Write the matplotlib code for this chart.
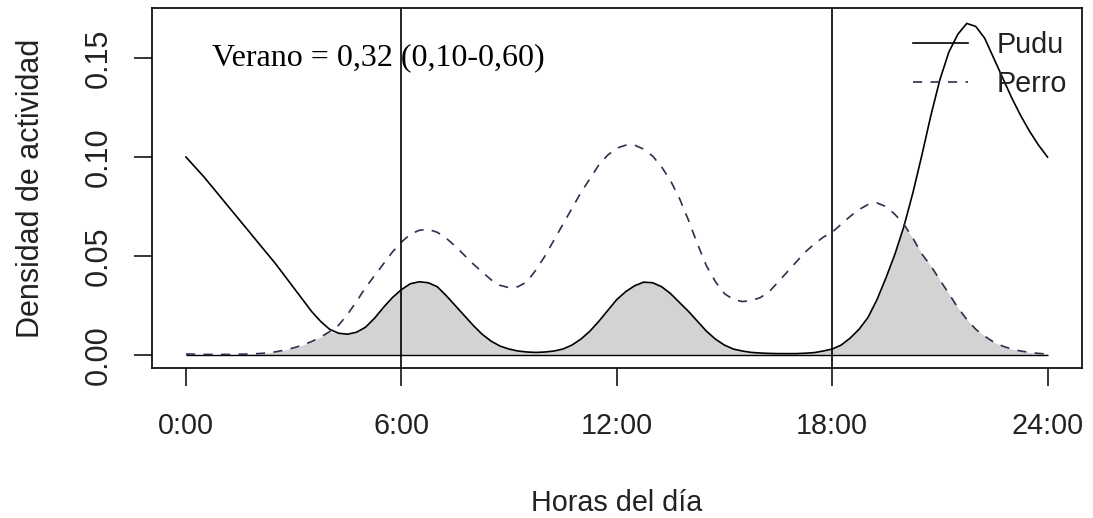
import numpy as np
import matplotlib
matplotlib.use("Agg")
import matplotlib.pyplot as plt

# ---- data (quarter-hour steps) ----
hours = [i * 0.25 for i in range(97)]
pudu = [0.100, 0.095, 0.090, 0.0845, 0.079, 0.0735, 0.068, 0.0625, 0.057, 0.0515,
        0.046, 0.040, 0.034, 0.028, 0.022, 0.017, 0.013, 0.011, 0.0105, 0.0115,
        0.014, 0.0185, 0.024, 0.029, 0.033, 0.036, 0.037, 0.0365, 0.0345, 0.030,
        0.025, 0.020, 0.015, 0.0105, 0.007, 0.0045, 0.003, 0.002, 0.0015, 0.0013,
        0.0015, 0.002, 0.003, 0.005, 0.008, 0.012, 0.017, 0.0225, 0.028, 0.032,
        0.035, 0.0368, 0.0365, 0.0345, 0.031, 0.0265, 0.022, 0.017, 0.012, 0.008,
        0.005, 0.003, 0.002, 0.0013, 0.001, 0.0008, 0.0007, 0.0007, 0.0007, 0.0009,
        0.0012, 0.002, 0.003, 0.005, 0.0085, 0.013, 0.019, 0.028, 0.039, 0.051,
        0.065, 0.082, 0.101, 0.121, 0.139, 0.153, 0.162, 0.1675, 0.166, 0.160,
        0.150, 0.140, 0.130, 0.121, 0.113, 0.106, 0.100]
perro = [0.0005, 0.0004, 0.0003, 0.0003, 0.0003, 0.0003, 0.0004, 0.0005, 0.0007, 0.001,
         0.0016, 0.0025, 0.0036, 0.005, 0.0068, 0.009, 0.0118, 0.015, 0.0205, 0.027,
         0.034, 0.040, 0.046, 0.052, 0.057, 0.061, 0.063, 0.0635, 0.062, 0.059,
         0.055, 0.0505, 0.046, 0.042, 0.038, 0.0352, 0.034, 0.0345, 0.037, 0.043,
         0.050, 0.058, 0.066, 0.074, 0.082, 0.089, 0.096, 0.101, 0.1045, 0.106,
         0.106, 0.104, 0.1005, 0.095, 0.088, 0.079, 0.068, 0.056, 0.045, 0.037,
         0.031, 0.028, 0.027, 0.0275, 0.029, 0.032, 0.037, 0.042, 0.047, 0.052,
         0.056, 0.0595, 0.062, 0.066, 0.070, 0.0735, 0.076, 0.0768, 0.075, 0.071,
         0.066, 0.059, 0.051, 0.045, 0.038, 0.031, 0.024, 0.018, 0.013, 0.0095,
         0.0065, 0.0045, 0.003, 0.002, 0.0013, 0.0008, 0.0005]
series_labels = ["Pudu", "Perro"]
xticks = [0, 6, 12, 18, 24]
xtick_labels = ["0:00", "6:00", "12:00", "18:00", "24:00"]
yticks = [0.00, 0.05, 0.10, 0.15]
ytick_labels = ["0.00", "0.05", "0.10", "0.15"]
vlines_at = [6, 18]
annotation = "Verano = 0,32 (0,10-0,60)"
xlabel = "Horas del día"
ylabel = "Densidad de actividad"

plt.rcParams['font.family'] = ['Liberation Sans', 'DejaVu Sans']

fig = plt.figure(figsize=(10.93, 5.18), dpi=100)
W, H = 1093, 518
left, right, top, bottom = 151.5, 1082, 8, 368
ax = fig.add_axes([left / W, 1 - bottom / H, (right - left) / W, (bottom - top) / H])

h = np.array(hours)
p1 = np.array(pudu)
p2 = np.array(perro)
ax.fill_between(h, 0, np.minimum(p1, p2), color='#d3d3d3', lw=0, zorder=1)
ax.hlines(0, h[0], h[-1], color='black', lw=1.0, zorder=2)
ax.plot(h, p1, color='black', lw=1.2, ls='-', label=series_labels[0], zorder=3)
ax.plot(h, p2, color='#2e2e4e', lw=1.2, ls=(0, (5.5, 5)), label=series_labels[1], zorder=3)
for v in vlines_at:
    ax.axvline(v, color='black', lw=1.2, zorder=4)

ax.set_xlim(-0.96, 24.96)
ax.set_ylim(-0.00657, 0.1753)

ax.set_xticks(xticks)
ax.set_xticklabels(xtick_labels, fontsize=20.7, color='#222222')
ax.set_yticks(yticks)
ax.set_yticklabels(ytick_labels, fontsize=22, rotation=90, va='center', color='#222222')
ax.tick_params(axis='both', length=13, width=1.1, direction='out', color='black')
ax.tick_params(axis='x', pad=18.5)
ax.tick_params(axis='y', pad=14)

for s in ax.spines.values():
    s.set_linewidth(1.2)
    s.set_color('black')

ax.set_xlabel(xlabel, fontsize=20.7, color='#222222')
ax.xaxis.label.set_va('center')
ax.xaxis.set_label_coords(0.5, -(503 - bottom) / (bottom - top))
ax.set_ylabel(ylabel, fontsize=22, color='#222222')
ax.yaxis.label.set_va('center')
ax.yaxis.set_label_coords((31 - left) / (right - left), 0.5)

ax.text(0.72, 0.1466, annotation, family=['Liberation Serif', 'DejaVu Serif'],
        fontsize=23, va='baseline', ha='left', color='black')

leg = ax.legend(loc='upper left', bbox_to_anchor=((913 - left) / (right - left), 1 - (31 - top) / (bottom - top)),
                frameon=False, fontsize=20.7, handlelength=1.91, handletextpad=1.0,
                labelspacing=0.40, borderpad=0, borderaxespad=0)
for t in leg.get_texts():
    t.set_color('#222222')

fig.savefig("out.png", dpi=100)
